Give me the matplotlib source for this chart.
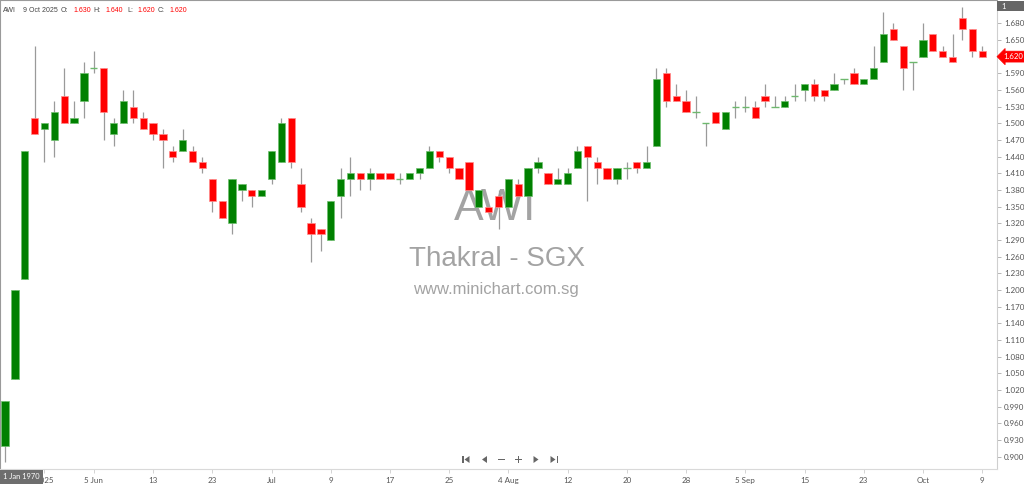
import matplotlib
matplotlib.use("Agg")
import matplotlib.pyplot as plt
import matplotlib.transforms as mtransforms
from matplotlib.patches import Rectangle, Polygon
import numpy as np

# ---------------- data ----------------
opens = [0.92, 1.04, 1.22, 1.51, 1.49, 1.47, 1.55, 1.50, 1.54, 1.60,
         1.60, 1.48, 1.50, 1.53, 1.51, 1.50, 1.48, 1.45, 1.45, 1.45,
         1.43, 1.40, 1.36, 1.32, 1.38, 1.38, 1.37, 1.40, 1.43, 1.51,
         1.39, 1.32, 1.31, 1.29, 1.37, 1.40, 1.41, 1.40, 1.41, 1.41,
         1.40, 1.40, 1.41, 1.42, 1.45, 1.44, 1.42, 1.43, 1.35, 1.35,
         1.37, 1.35, 1.39, 1.37, 1.42, 1.41, 1.39, 1.39, 1.42, 1.46,
         1.43, 1.42, 1.40, 1.42, 1.43, 1.42, 1.46, 1.59, 1.55, 1.54,
         1.52, 1.50, 1.52, 1.49, 1.53, 1.53, 1.53, 1.55, 1.53, 1.53,
         1.55, 1.56, 1.57, 1.56, 1.56, 1.58, 1.59, 1.57, 1.58, 1.61,
         1.67, 1.64, 1.61, 1.62, 1.66, 1.63, 1.62, 1.69, 1.67, 1.63]
highs = [1.00, 1.20, 1.45, 1.64, 1.50, 1.54, 1.60, 1.54, 1.61, 1.63,
         1.60, 1.51, 1.56, 1.56, 1.52, 1.50, 1.49, 1.46, 1.49, 1.46,
         1.44, 1.40, 1.36, 1.40, 1.39, 1.38, 1.38, 1.45, 1.51, 1.51,
         1.42, 1.33, 1.31, 1.36, 1.42, 1.44, 1.41, 1.42, 1.41, 1.41,
         1.41, 1.41, 1.42, 1.46, 1.45, 1.44, 1.42, 1.43, 1.38, 1.35,
         1.38, 1.40, 1.40, 1.42, 1.44, 1.41, 1.42, 1.42, 1.46, 1.46,
         1.44, 1.42, 1.42, 1.43, 1.43, 1.46, 1.60, 1.60, 1.57, 1.56,
         1.55, 1.50, 1.52, 1.52, 1.54, 1.55, 1.54, 1.57, 1.55, 1.55,
         1.57, 1.57, 1.58, 1.56, 1.59, 1.58, 1.60, 1.58, 1.64, 1.70,
         1.68, 1.64, 1.61, 1.68, 1.66, 1.64, 1.66, 1.71, 1.67, 1.64]
lows = [0.89, 1.04, 1.22, 1.48, 1.43, 1.44, 1.50, 1.50, 1.51, 1.59,
        1.47, 1.46, 1.50, 1.50, 1.49, 1.47, 1.42, 1.43, 1.45, 1.43,
        1.41, 1.34, 1.33, 1.30, 1.36, 1.35, 1.37, 1.39, 1.43, 1.42,
        1.34, 1.25, 1.27, 1.29, 1.33, 1.37, 1.38, 1.38, 1.40, 1.40,
        1.39, 1.40, 1.40, 1.42, 1.43, 1.41, 1.40, 1.38, 1.35, 1.34,
        1.31, 1.35, 1.37, 1.37, 1.41, 1.39, 1.39, 1.39, 1.42, 1.36,
        1.39, 1.40, 1.39, 1.40, 1.41, 1.42, 1.46, 1.53, 1.54, 1.52,
        1.51, 1.46, 1.50, 1.49, 1.51, 1.52, 1.51, 1.53, 1.53, 1.53,
        1.54, 1.54, 1.54, 1.54, 1.56, 1.57, 1.57, 1.57, 1.58, 1.61,
        1.65, 1.56, 1.56, 1.62, 1.63, 1.62, 1.61, 1.65, 1.62, 1.62]
closes = [1.00, 1.20, 1.45, 1.48, 1.50, 1.52, 1.50, 1.51, 1.59, 1.60,
          1.52, 1.50, 1.54, 1.51, 1.49, 1.48, 1.47, 1.44, 1.47, 1.43,
          1.42, 1.36, 1.33, 1.40, 1.39, 1.37, 1.38, 1.45, 1.50, 1.43,
          1.35, 1.30, 1.30, 1.36, 1.40, 1.41, 1.40, 1.41, 1.40, 1.40,
          1.40, 1.41, 1.42, 1.45, 1.44, 1.42, 1.40, 1.38, 1.38, 1.34,
          1.35, 1.40, 1.37, 1.42, 1.43, 1.39, 1.40, 1.41, 1.45, 1.44,
          1.42, 1.40, 1.42, 1.42, 1.42, 1.43, 1.58, 1.54, 1.54, 1.52,
          1.52, 1.50, 1.50, 1.52, 1.53, 1.53, 1.51, 1.54, 1.53, 1.54,
          1.55, 1.57, 1.55, 1.55, 1.57, 1.58, 1.57, 1.58, 1.60, 1.66,
          1.65, 1.60, 1.61, 1.65, 1.63, 1.62, 1.61, 1.67, 1.63, 1.62]

tick_positions = [4, 9, 15, 21, 27, 33, 39, 45, 51, 57, 63, 69, 75, 81, 87, 93, 99]
tick_labels = ['2025', '5 Jun', '13', '23', 'Jul', '9', '17', '25', '4 Aug',
               '12', '20', '28', '5 Sep', '15', '23', 'Oct', '9']
price_ticks = [round(0.90 + 0.03 * k, 3) for k in range(27)]

symbol = 'AWI'
last_date = '9 Oct 2025'
company = 'Thakral - SGX'
site = 'www.minichart.com.sg'

# ---------------- figure ----------------
W, H = 1024, 484
fig = plt.figure(figsize=(W / 100, H / 100), dpi=100)
fig.patch.set_facecolor('white')
ax = fig.add_axes([0, 15 / H, 997 / W, 469 / H])
ax.set_facecolor('white')

UP = '#008000'
DOWN = '#ff0000'
UP_EDGE = '#6fbf6f'
DOWN_EDGE = '#ff8c8c'
WICK = '#9a9a9a'
DOJI = '#6db86d'

o = np.array(opens); h = np.array(highs); l = np.array(lows); c = np.array(closes)
x = np.arange(len(o))

ax.vlines(x, l, h, color=WICK, linewidth=0.9, zorder=2)
for i in range(len(o)):
    if abs(c[i] - o[i]) < 1e-9:
        ax.hlines(o[i], i - 0.37, i + 0.37, color=DOJI, linewidth=1.0, zorder=3)
    else:
        up = c[i] > o[i]
        ax.bar(i, abs(c[i] - o[i]), bottom=min(o[i], c[i]), width=0.74,
               color=UP if up else DOWN, edgecolor=UP_EDGE if up else DOWN_EDGE,
               linewidth=0.5, zorder=3)

ax.set_xlim(-0.507, 100.5)
ax.set_ylim(0.8778, 1.7219)

# spines
for s in ['top', 'left']:
    ax.spines[s].set_linestyle((0, (1, 1)))
    ax.spines[s].set_color('#9a9a9a')
    ax.spines[s].set_linewidth(0.8)
ax.spines['right'].set_color('#cfcfcf')
ax.spines['bottom'].set_color('#d9d9d9')
ax.spines['right'].set_linewidth(0.8)
ax.spines['bottom'].set_linewidth(0.8)

small_font = ['Lato', 'DejaVu Sans']
legend_font = ['Liberation Sans', 'DejaVu Sans']

ax.yaxis.tick_right()
ax.set_yticks(price_ticks)
ax.set_yticklabels(['%.3f' % v for v in price_ticks])
ax.tick_params(axis='y', direction='out', length=3, width=0.6, color='#aaaaaa',
               labelsize=5.8, labelcolor='#555555', pad=2)
ax.set_xticks(tick_positions)
ax.set_xticklabels(tick_labels)
ax.tick_params(axis='x', direction='out', length=3, width=0.6, color='#cccccc',
               labelsize=5.8, labelcolor='#555555', pad=3)
for lab in ax.get_xticklabels() + ax.get_yticklabels():
    lab.set_family(small_font)

# watermark (behind the candles)
wm_font = ['Liberation Sans', 'DejaVu Sans']
ax.text(0.497, 1 - 220 / 469, symbol, transform=ax.transAxes, ha='center', va='baseline',
        fontsize=32, color='#a3a3a3', family=wm_font, zorder=1)
ax.text(0.498, 1 - 266.5 / 469, company, transform=ax.transAxes, ha='center', va='baseline',
        fontsize=20, color='#a3a3a3', family=wm_font, zorder=1)
ax.text(0.497, 1 - 294 / 469, site, transform=ax.transAxes, ha='center', va='baseline',
        fontsize=12, color='#a3a3a3', family=wm_font, zorder=1)

# legend line at top-left
def ftext(px, py, s, color, **kw):
    fig.text(px / W, 1 - py / H, s, color=color, fontsize=5.0, va='center', ha='left',
             family=legend_font, **kw)

ftext(3, 10.5, symbol, '#444444')
ftext(23, 10.5, last_date, '#444444')
ftext(61, 10.5, 'O:', '#444444')
ftext(73, 10.5, '%.3f' % opens[-1], '#ff0000')
ftext(93, 10.5, 'H:', '#444444')
ftext(105, 10.5, '%.3f' % highs[-1], '#ff0000')
ftext(127, 10.5, 'L:', '#444444')
ftext(137, 10.5, '%.3f' % lows[-1], '#ff0000')
ftext(158, 10.5, 'C:', '#444444')
ftext(169, 10.5, '%.3f' % closes[-1], '#ff0000')

# last price tag
trans = mtransforms.blended_transform_factory(ax.transAxes, ax.transData)
ax.text(1.006, closes[-1], '%.3f' % closes[-1], transform=trans, ha='left', va='center',
        fontsize=5.6, color='white', family=small_font, clip_on=False, zorder=10,
        bbox=dict(boxstyle='larrow,pad=0.25', fc='#ff0000', ec='#ff0000', lw=0.5))

# top-right "1" box
fig.patches.append(Rectangle((997 / W, 1 - 11 / H), 27 / W, 10 / H, transform=fig.transFigure,
                             facecolor='#666666', edgecolor='none', zorder=5))
fig.text(1001 / W, 1 - 6.3 / H, '1', color='white', fontsize=5.6, va='center', ha='left',
         family=small_font, zorder=6)

# bottom-left crosshair date tooltip
fig.patches.append(Rectangle((0, 0.5 / H), 43 / W, 13.5 / H, transform=fig.transFigure,
                             facecolor='#6e6e6e', edgecolor='none', zorder=5))
fig.text(21.5 / W, 1 - 476.5 / H, '1 Jan 1970', color='white', fontsize=5.4, va='center',
         ha='center', family=small_font, zorder=6)

# navigation buttons
gray = '#666666'
def tri(cx, cy, w, hgt, right=True):
    if right:
        pts = [(cx - w / 2, cy - hgt / 2), (cx - w / 2, cy + hgt / 2), (cx + w / 2, cy)]
    else:
        pts = [(cx + w / 2, cy - hgt / 2), (cx + w / 2, cy + hgt / 2), (cx - w / 2, cy)]
    pts = [(px / W, 1 - py / H) for px, py in pts]
    fig.patches.append(Polygon(pts, closed=True, transform=fig.transFigure,
                               facecolor=gray, edgecolor='none'))
def bar(x0, y0, w, hgt):
    fig.patches.append(Rectangle((x0 / W, 1 - (y0 + hgt) / H), w / W, hgt / H,
                                 transform=fig.transFigure, facecolor=gray, edgecolor='none'))
bar(462, 456, 1.6, 7)
tri(467, 459.5, 5, 7, right=False)
tri(484.5, 459.5, 5, 7, right=False)
bar(498, 459, 7, 1.2)
bar(515, 459, 7, 1.2)
bar(517.9, 456, 1.2, 7)
tri(536, 459.5, 5, 7, right=True)
tri(553, 459.5, 5, 7, right=True)
bar(556.6, 456, 1.6, 7)

fig.savefig('out.png', dpi=100, facecolor='white')
